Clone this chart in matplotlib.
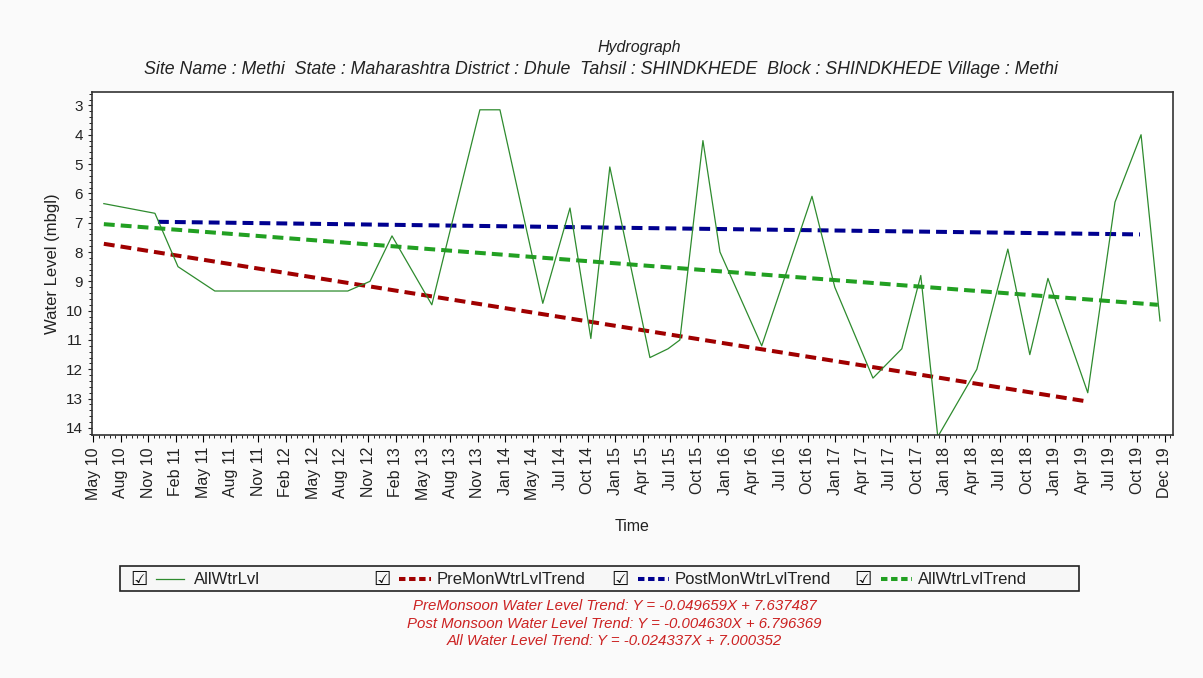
import matplotlib
matplotlib.use("Agg")
import matplotlib.pyplot as plt
from matplotlib.lines import Line2D
from matplotlib.patches import Rectangle
from matplotlib.ticker import AutoMinorLocator

# tick labels (one per tick position 0..39)
tick_labels = ['May 10', 'Aug 10', 'Nov 10', 'Feb 11', 'May 11', 'Aug 11', 'Nov 11',
               'Feb 12', 'May 12', 'Aug 12', 'Nov 12', 'Feb 13', 'May 13', 'Aug 13',
               'Nov 13', 'Jan 14', 'May 14', 'Jul 14', 'Oct 14', 'Jan 15', 'Apr 15',
               'Jul 15', 'Oct 15', 'Jan 16', 'Apr 16', 'Jul 16', 'Oct 16', 'Jan 17',
               'Apr 17', 'Jul 17', 'Oct 17', 'Jan 18', 'Apr 18', 'Jul 18', 'Oct 18',
               'Jan 19', 'Apr 19', 'Jul 19', 'Oct 19', 'Dec 19']

# observed water level (position on the tick scale, depth in mbgl)
obs_pos = [0.38, 2.24, 3.08, 4.42, 9.26, 10.07, 10.87, 12.32, 14.07, 14.80,
           16.36, 17.35, 18.11, 18.80, 20.26, 20.92, 21.35, 22.19, 22.81, 24.33,
           26.16, 26.99, 28.38, 29.43, 30.12, 30.74, 32.16, 33.29, 34.09, 34.75,
           36.20, 37.19, 38.14, 38.83]
obs_level = [6.35, 6.68, 8.5, 9.33, 9.33, 9.0, 7.45, 9.8, 3.15, 3.15,
             9.75, 6.5, 10.95, 5.1, 11.6, 11.3, 11.0, 4.2, 8.0, 11.2,
             6.1, 9.2, 12.3, 11.3, 8.8, 14.3, 12.0, 7.9, 11.5, 8.9,
             12.8, 6.3, 4.0, 10.35]

# trend lines (start / end)
pre_pos = [0.38, 36.2]
pre_level = [7.72, 13.1]
post_pos = [2.35, 38.1]
post_level = [6.97, 7.4]
all_pos = [0.38, 38.75]
all_level = [7.05, 9.8]

site = ('Site Name : Methi  State : Maharashtra District : Dhule  Tahsil : SHINDKHEDE  '
        'Block : SHINDKHEDE Village : Methi')
equations = ['PreMonsoon Water Level Trend: Y = -0.049659X + 7.637487',
             'Post Monsoon Water Level Trend: Y = -0.004630X + 6.796369',
             'All Water Level Trend: Y = -0.024337X + 7.000352']

plt.rcParams['font.family'] = ['Liberation Sans', 'DejaVu Sans']

fig = plt.figure(figsize=(12.03, 6.78), dpi=100, facecolor='#fafafa')
ax = fig.add_axes([0.0765, 0.358, 0.8985, 0.506])
ax.set_facecolor('white')

dash = (2.7, 1.5)
ax.plot(pre_pos, pre_level, color='#a00000', lw=2.9, dashes=dash)
ax.plot(post_pos, post_level, color='#000090', lw=2.9, dashes=dash)
ax.plot(all_pos, all_level, color='#22a022', lw=2.9, dashes=dash)
ax.plot(obs_pos, obs_level, color='#2e8b2e', lw=0.9)

ax.set_xlim(-0.05, 39.3)
ax.set_ylim(14.25, 2.55)
ax.set_xticks(range(len(tick_labels)))
ax.set_xticklabels(tick_labels, rotation=90, fontsize=11.5, color='#222222')
ax.set_yticks(range(3, 15))
ax.tick_params(axis='y', labelsize=11, colors='#222222', direction='out', length=3)
ax.tick_params(axis='x', direction='out', length=5)
ax.xaxis.set_minor_locator(AutoMinorLocator(5))
ax.yaxis.set_minor_locator(AutoMinorLocator(5))
ax.tick_params(which='minor', length=2)
for s in ax.spines.values():
    s.set_linewidth(1.2)
    s.set_color('#333333')

ax.set_ylabel('Water Level (mbgl)', fontsize=12, color='#222222', labelpad=4)
ax.set_xlabel('Time', fontsize=11.5, color='#222222', labelpad=14)

fig.text(0.531, 0.930, 'Hydrograph', ha='center', va='center', fontsize=11.5,
         style='italic', color='#222222')
fig.text(0.5, 0.898, site, ha='center', va='center', fontsize=12.8,
         style='italic', color='#222222')

# legend strip
fig.patches.append(Rectangle((0.1, 0.128), 0.797, 0.037, transform=fig.transFigure,
                             facecolor='#f7f7f7', edgecolor='#222222', lw=1.2))
legend_items = [
    (0.108, '#2e8b2e', None, 'AllWtrLvl'),
    (0.310, '#a00000', dash, 'PreMonWtrLvlTrend'),
    (0.508, '#000090', dash, 'PostMonWtrLvlTrend'),
    (0.710, '#22a022', dash, 'AllWtrLvlTrend'),
]
for x0, col, ds, lab in legend_items:
    fig.text(x0, 0.146, '\u2611', ha='left', va='center', fontsize=14,
             family=['DejaVu Sans'], color='#111111')
    if ds is None:
        ln = Line2D([x0 + 0.022, x0 + 0.045], [0.146, 0.146], color=col, lw=0.9,
                    transform=fig.transFigure)
    else:
        ln = Line2D([x0 + 0.022, x0 + 0.048], [0.146, 0.146], color=col, lw=2.9,
                    dashes=(1.6, 0.9), transform=fig.transFigure)
    fig.lines.append(ln)
    fig.text(x0 + 0.053, 0.146, lab, ha='left', va='center', fontsize=12,
             color='#222222')

for i, eq in enumerate(equations):
    fig.text(0.511, 0.106 - i * 0.026, eq, ha='center', va='center', fontsize=10.8,
             style='italic', color='#cc2222')

fig.savefig('out.png', dpi=100, facecolor=fig.get_facecolor())
